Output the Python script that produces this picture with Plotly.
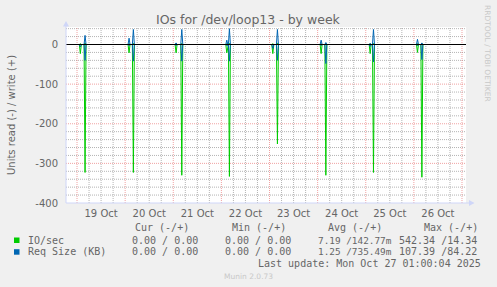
import plotly.graph_objects as go
import pandas as pd

# ---------------- data ----------------
days = ["2025-10-19", "2025-10-20", "2025-10-21", "2025-10-22",
        "2025-10-23", "2025-10-24", "2025-10-25", "2025-10-26"]
day_labels = ["19 Oct", "20 Oct", "21 Oct", "22 Oct", "23 Oct", "24 Oct", "25 Oct", "26 Oct"]

# hour of day of the small dip and of the main spike in each daily burst
dip_hour = [1.65, 1.95, 1.4, 2.7, 1.65, 1.75, 2.2, 1.8]
peak_hour = [4.0, 4.1, 4.25, 4.0, 3.95, 4.1, 3.85, 4.0]

# IO/sec : read (drawn negative) / write (positive)
io_read_dip = [-23, -21, -21, -21, -23, -23, -23, -20]
io_read_peak = [-323, -323, -330, -333, -251, -330, -323, -335]
io_write_dip = [2, 2, 2, 2, 2, 2, 2, 2]
io_write_peak = [4, 3, 3, 3, 4, 3, 3, 3]

# Req Size (KB) : read (drawn negative) / write (positive)
req_read_dip = [-6, -3, -3, -3, -10, -3, -5, -3]
req_read_peak = [-40, -42, -42, -42, -40, -48, -44, -38]
req_write_dip = [0, 16, 4, 11, 0, 11, 3, 13]
req_write_peak = [23, 38, 38, 40, 38, 5, 38, 4]

x_start = "2025-10-18 18:30"
x_end = "2025-10-27 02:00"

y_min, y_max = -400, 44.16
y_major = 100
y_minor = 20
y_ticks = [-400, -300, -200, -100, 0]
y_ticktext = ["-400", "-300", "-200", "-100", "0"]

legend_names = ["IO/sec", "Req Size (KB)"]
legend_cur = ["0.00 / 0.00", "0.00 / 0.00"]
legend_min = ["0.00 / 0.00", "0.00 / 0.00"]
legend_avg = ["7.19 /142.77m", "1.25 /735.49m"]
legend_max = ["542.34 /14.34", "107.39 /84.22"]

GREEN = "#00CC00"
BLUE = "#0066B3"


def build(dip_vals, peak_vals):
    t = [pd.Timestamp(x_start)]
    v = [0]
    for d, dh, ph, dv, pv in zip(days, dip_hour, peak_hour, dip_vals, peak_vals):
        base = pd.Timestamp(d)
        for h, val in [(dh - 0.5, 0), (dh, dv), (dh + 0.5, 0),
                       (ph - 0.5, 0), (ph, pv), (ph + 0.5, 0)]:
            t.append(base + pd.Timedelta(hours=h))
            v.append(val)
    t.append(pd.Timestamp(x_end))
    v.append(0)
    return t, v


fig = go.Figure()
for dv, pv, col in [(io_read_dip, io_read_peak, GREEN),
                    (io_write_dip, io_write_peak, GREEN),
                    (req_read_dip, req_read_peak, BLUE),
                    (req_write_dip, req_write_peak, BLUE)]:
    t, v = build(dv, pv)
    fig.add_trace(go.Scatter(x=t, y=v, mode="lines",
                             line=dict(color=col, width=1), hoverinfo="skip"))

# ---------------- layout ----------------
W, H = 497, 287
L, R, T, B = 66, 31, 27, 84
PW, PH = W - L - R, H - T - B


def px(xp):
    return (xp - L) / PW


def py(yp):
    return (H - B - yp) / PH


FONT = "DejaVu Sans"
MONO = "DejaVu Sans Mono"
FC = "#666666"
GRID = "rgba(140,140,140,0.65)"
MGRID = "rgba(230,100,100,0.6)"
AXIS = "#CFD6F8"
DASH = "1px,1px"

fig.update_layout(
    width=W, height=H,
    margin=dict(l=L, r=R, t=T, b=B, pad=0),
    paper_bgcolor="#F0F0F0", plot_bgcolor="#FFFFFF",
    showlegend=False,
    font=dict(family=FONT, size=10, color=FC),
    xaxis=dict(type="date", range=[x_start, x_end],
               tickmode="array",
               tickvals=[pd.Timestamp(d) + pd.Timedelta(hours=12) for d in days],
               ticktext=day_labels, ticks="outside", ticklen=1, tickcolor="rgba(0,0,0,0)",
               showgrid=False, zeroline=False, showline=False,
               tickfont=dict(family=FONT, size=10, color=FC)),
    yaxis=dict(range=[y_min, y_max], tickmode="array", tickvals=y_ticks,
               ticktext=y_ticktext, ticks="outside", ticklen=5,
               tickcolor="rgba(0,0,0,0)", showgrid=False,
               zeroline=False, showline=False,
               tickfont=dict(family=FONT, size=10, color=FC)),
)

shapes = []
# horizontal grid
yv = -400 + y_minor
while yv < y_max:
    major = (yv % y_major == 0)
    if yv != 0:
        shapes.append(dict(type="line", xref="paper", yref="y", x0=0, x1=1, y0=yv, y1=yv,
                           line=dict(color=MGRID if major else GRID, width=1, dash=DASH),
                           layer="below"))
    yv += y_minor
# vertical grid: every 6 hours, red at midnight
tg = pd.Timestamp(days[0]) - pd.Timedelta(hours=12)
while tg < pd.Timestamp(x_end):
    if tg > pd.Timestamp(x_start):
        major = (tg.hour == 0)
        shapes.append(dict(type="line", xref="x", yref="paper", x0=tg, x1=tg, y0=0, y1=1,
                           line=dict(color=MGRID if major else GRID, width=1, dash=DASH),
                           layer="below"))
    tg += pd.Timedelta(hours=6)
# zero line
shapes.append(dict(type="line", xref="paper", yref="y", x0=0, x1=1, y0=0, y1=0,
                   line=dict(color="#000000", width=1), layer="above"))
# axes with arrows
shapes.append(dict(type="line", xref="paper", yref="paper", x0=0, x1=px(470), y0=0, y1=0,
                   line=dict(color=AXIS, width=1), layer="above"))
shapes.append(dict(type="line", xref="paper", yref="paper", x0=0, x1=0, y0=0, y1=py(24),
                   line=dict(color=AXIS, width=1), layer="above"))
shapes.append(dict(type="path", xref="paper", yref="paper",
                   path=f"M {px(469)} {py(200)} L {px(474.5)} {py(203)} L {px(469)} {py(206)} Z",
                   fillcolor=AXIS, line=dict(width=0), layer="above"))
shapes.append(dict(type="path", xref="paper", yref="paper",
                   path=f"M {px(63)} {py(26.5)} L {px(66)} {py(21)} L {px(69)} {py(26.5)} Z",
                   fillcolor=AXIS, line=dict(width=0), layer="above"))
# legend swatches
for i, col in enumerate([GREEN, BLUE]):
    yc = [240, 251.7][i]
    shapes.append(dict(type="rect", xref="paper", yref="paper",
                       x0=px(14), x1=px(19.5), y0=py(yc - 2.5), y1=py(yc + 3),
                       fillcolor=col, line=dict(width=0)))
fig.update_layout(shapes=shapes)

ann = []


def text(x, y, s, anchor="left", size=10, family=MONO, color=FC, angle=0):
    ann.append(dict(xref="paper", yref="paper", x=px(x), y=py(y), text=s,
                    showarrow=False, xanchor=anchor, yanchor="middle",
                    textangle=angle, borderpad=0,
                    font=dict(family=family, size=size, color=color)))


text(248.7, 19, "IOs for /dev/loop13 - by week", anchor="center", size=12.5, family=FONT)
text(11, 115, "Units read (-) / write (+)", anchor="center", size=10, family=FONT, angle=-90)
text(488, 53, "RRDTOOL / TOBI OETIKER", anchor="center", size=7.5, family=FONT,
     color="#C8C8C8", angle=90)

text(134, 227.3, "Cur (-/+)")
text(230.7, 227.3, "Min (-/+)")
text(327.3, 227.3, "Avg (-/+)")
text(423, 227.3, "Max (-/+)")
for i, yc in enumerate([240, 251.7]):
    text(26.7, yc, legend_names[i])
    text(131.3, yc, legend_cur[i])
    text(224, yc, legend_min[i])
    text(317.3, yc, legend_avg[i], size=9.4)
    text(398.3, yc, legend_max[i])
text(482.3, 263.3, "Last update: Mon Oct 27 01:00:04 2025", anchor="right")
text(248, 276, "Munin 2.0.73", anchor="center", size=7.5, family=FONT, color="#C8C8C8")

fig.update_layout(annotations=ann)
fig.write_html("out.html")
